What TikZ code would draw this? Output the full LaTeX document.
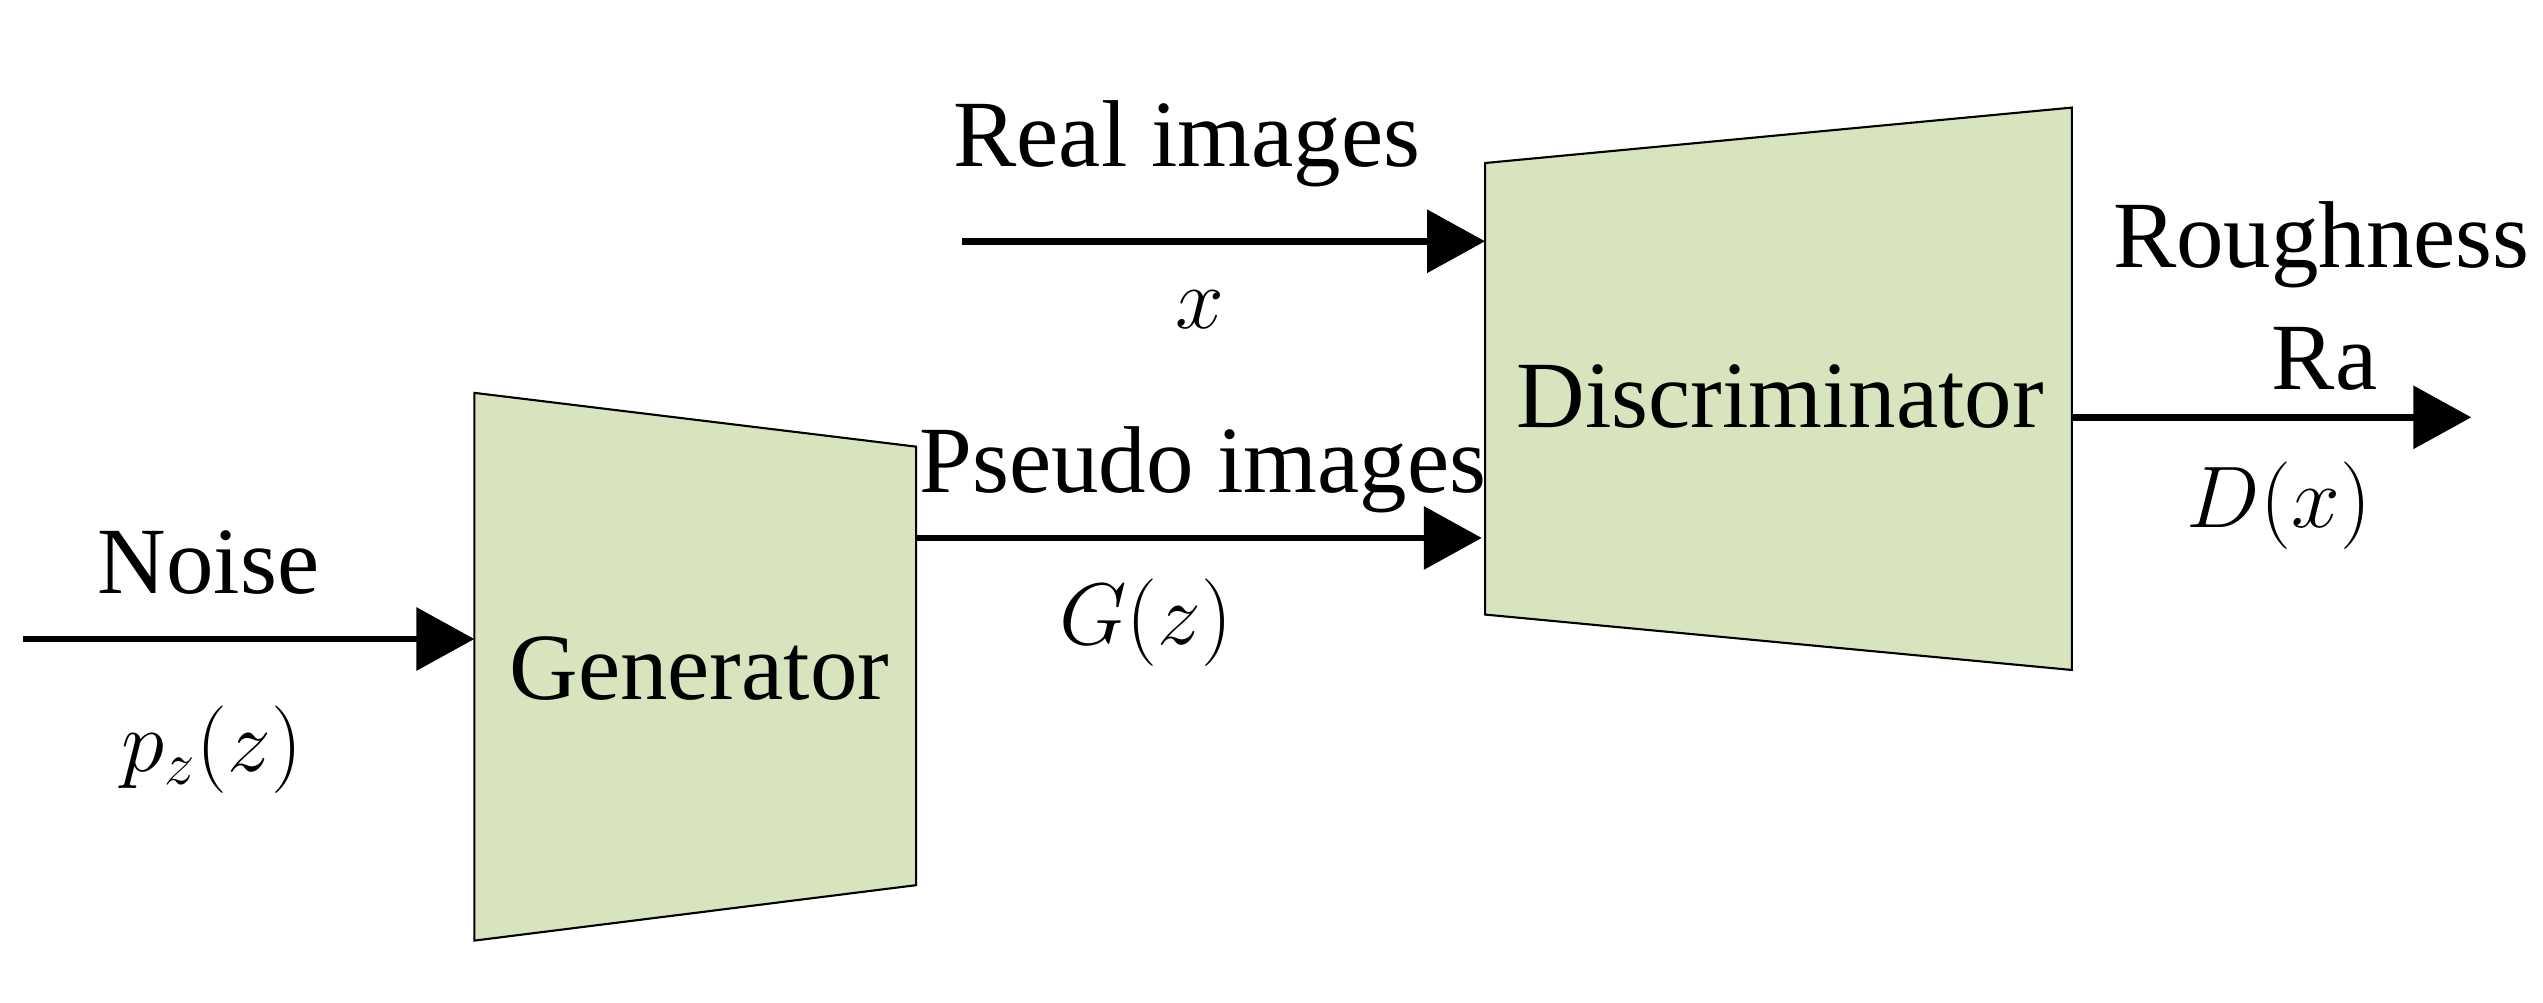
\documentclass[tikz,border=0pt]{standalone}
\usepackage{fontspec}
\setmainfont{Liberation Serif}
\usetikzlibrary{arrows.meta}
\definecolor{boxgreen}{HTML}{D7E4BD}

\begin{document}
\begin{tikzpicture}[x=0.0163cm, y=-0.0163cm,
  every node/.style={font=\fontsize{27}{32}\selectfont},
  flow/.style={line width=1.9pt, -{Triangle[length=0.58cm, width=0.62cm]}},
  block/.style={fill=boxgreen, draw=black, line width=0.6pt}]
\useasboundingbox (0,0) rectangle (1560,615);

% generator
\draw[block] (291,241) -- (562,274) -- (562,543) -- (291,577) -- cycle;
\node (gen) at (429,410) {Generator};
% discriminator
\draw[block] (911,100) -- (1271,66) -- (1271,411) -- (911,377) -- cycle;
\node (dis) at (1092,243) {Discriminator};

\coordinate (noise) at (14,392);
\coordinate (genin) at (291,392);
\coordinate (genout) at (562,330);
\coordinate (disfake) at (909,330);
\coordinate (real) at (590,148);
\coordinate (disreal) at (911,148);
\coordinate (disout) at (1271,256);
\coordinate (out) at (1516,256);

\draw[flow] (noise) -- (genin);
\draw[flow] (genout) -- (disfake);
\draw[flow] (real) -- (disreal);
\draw[flow] (disout) -- (out);

\node (noiselbl) at (128,345) {Noise};
\node (pz) at (130,460) {$p_z\!\left(z\right)$};
\node (reallbl) at (728,88) {Real images};
\node (x) at (736,190) {$x$};
\node (pseudolbl) at (738,288) {Pseudo images};
\node (gz) at (703,382) {$G\!\left(z\right)$};
\node (rough) at (1424,150) {Roughness};
\node (ra) at (1426,220) {Ra};
\node (dx) at (1398,310) {$D\!\left(x\right)$};
\end{tikzpicture}
\end{document}
